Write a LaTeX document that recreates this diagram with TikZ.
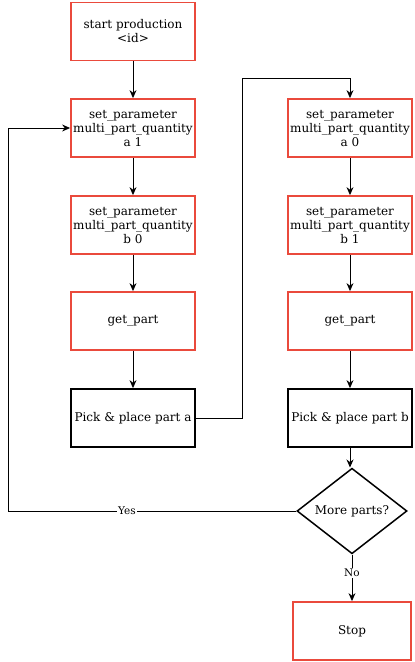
\documentclass[tikz,border=0pt]{standalone}
\usepackage{fontspec}
\setmainfont{DejaVu Serif}
\usetikzlibrary{shapes.geometric,arrows.meta}
\definecolor{boxred}{RGB}{234,74,60}
\begin{document}
\begin{tikzpicture}[x=1pt,y=-1pt,
  font=\fontsize{12}{14}\selectfont,
  redbox/.style={draw=boxred,line width=1.8pt,minimum width=124pt,minimum height=58pt,align=center,inner sep=1pt},
  blackbox/.style={draw=black,line width=1.8pt,minimum width=124pt,minimum height=58pt,align=center,inner sep=1pt},
  decision/.style={draw=black,line width=1.5pt,diamond,minimum width=110pt,minimum height=80pt,inner sep=0pt,align=center},
  conn/.style={draw=black,line width=0.9pt,-{Stealth[length=8pt,width=7pt]}},
  lbl/.style={fill=white,inner sep=1pt,font=\fontsize{10.5}{12}\selectfont}
]
\useasboundingbox (0,0) rectangle (415,662);
\node[redbox] (start) at (133,31.5) {start production\\<id>};
\node[redbox] (a1) at (133,128) {set\_parameter\\multi\_part\_quantity\\a 1};
\node[redbox] (b0) at (133,225) {set\_parameter\\multi\_part\_quantity\\b 0};
\node[redbox] (gpa) at (133,321) {get\_part};
\node[blackbox] (pa) at (133,418) {Pick \& place part a};
\node[redbox] (a0) at (350,128) {set\_parameter\\multi\_part\_quantity\\a 0};
\node[redbox] (b1) at (350,225) {set\_parameter\\multi\_part\_quantity\\b 1};
\node[redbox] (gpb) at (350,321) {get\_part};
\node[blackbox] (pb) at (350,418) {Pick \& place part b};
\node[decision] (more) at (352,511) {More parts?};
\node[redbox,minimum width=118pt] (stop) at (352,631) {Stop};
\coordinate (ja) at (242,78);
\coordinate (jy) at (8,128);
\draw[conn] (start) -- (a1);
\draw[conn] (a1) -- (b0);
\draw[conn] (b0) -- (gpa);
\draw[conn] (gpa) -- (pa);
\draw[conn] (pa.east) -| (ja) -| (a0.north);
\draw[conn] (a0) -- (b1);
\draw[conn] (b1) -- (gpb);
\draw[conn] (gpb) -- (pb);
\draw[conn] (pb.south) -- (pb.south |- more.north);
\draw[conn] (more.west) -| (jy) -- (a1.west);
\node[lbl] at (127,511) {Yes};
\draw[conn] (more.south) -- (stop.north) node[lbl,pos=0.4]{No};
\end{tikzpicture}
\end{document}
